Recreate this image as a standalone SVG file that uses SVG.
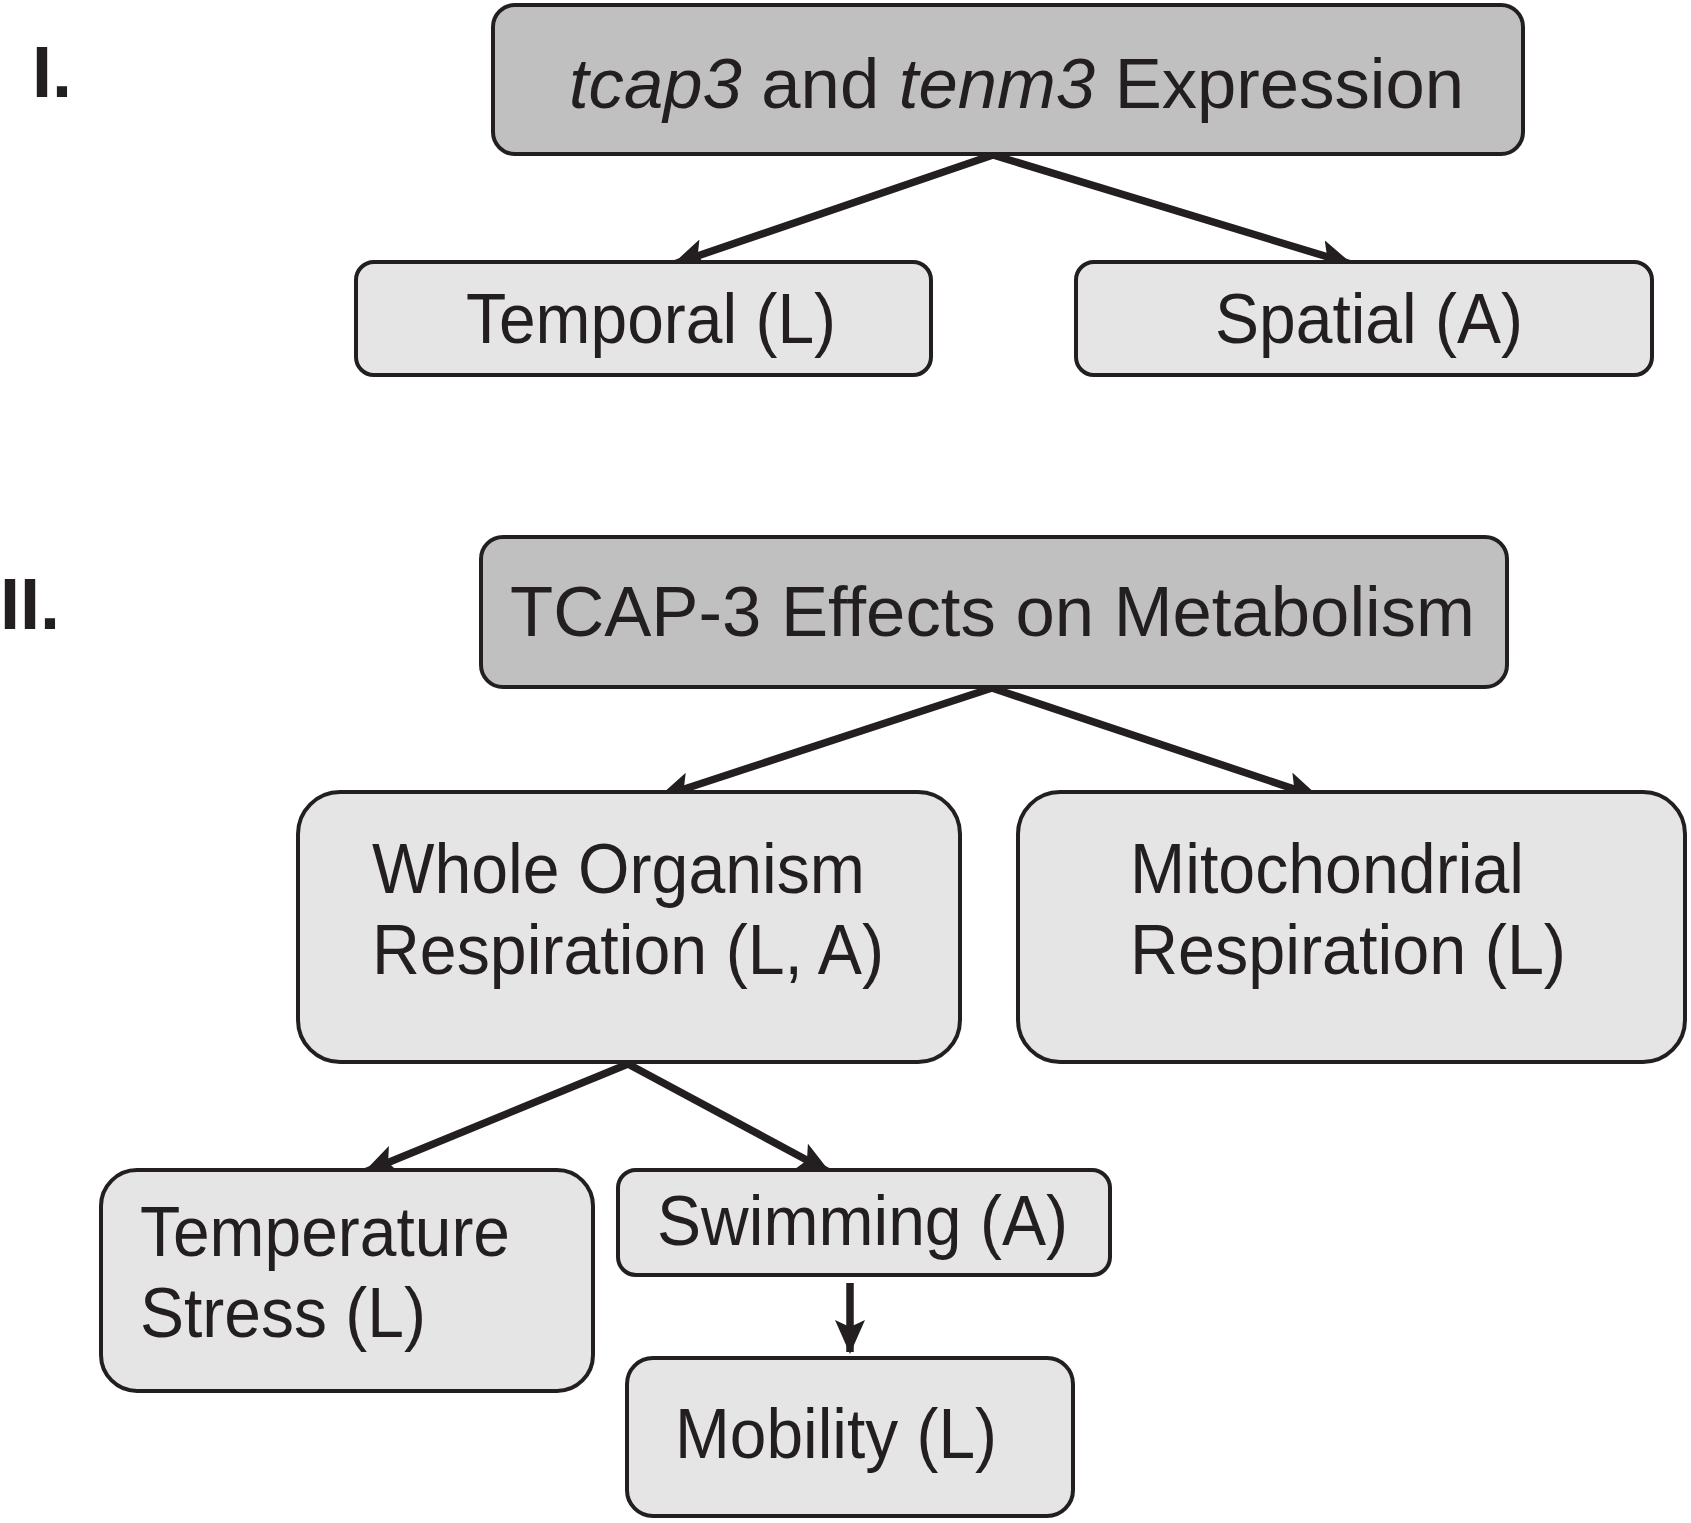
<svg xmlns="http://www.w3.org/2000/svg" width="1691" height="1523" viewBox="0 0 1691 1523">
<style>
.main{fill:#c0c0c0;stroke:#231f20;stroke-width:4}
.sub{fill:#e6e5e6;stroke:#231f20;stroke-width:4}
text{font-family:"Liberation Sans",Arial,sans-serif;font-size:70px;fill:#231f20}
.lbl{font-weight:bold;font-size:72px}
.conn{stroke:#231f20;stroke-width:7.5;fill:none;marker-end:url(#ah)}
</style>
<defs>
<marker id="ah" markerUnits="userSpaceOnUse" markerWidth="34" markerHeight="30" refX="32" refY="15" orient="auto">
<path d="M0,0 L34,15 L0,30 L7,15 Z" fill="#231f20"/>
</marker>
</defs>
<rect width="1691" height="1523" fill="#ffffff"/>
<text class="lbl" x="32" y="97">I.</text>
<text class="lbl" x="0" y="629">II.</text>

<g id="connectors">
<line class="conn" x1="993" y1="155" x2="674" y2="264"/>
<line class="conn" x1="993" y1="155" x2="1351" y2="264"/>
<line class="conn" x1="992" y1="688" x2="660" y2="797"/>
<line class="conn" x1="992" y1="688" x2="1318" y2="797"/>
<line class="conn" x1="628" y1="1064" x2="365" y2="1172"/>
<line class="conn" x1="628" y1="1064" x2="829" y2="1172"/>
<line class="conn" x1="850" y1="1283" x2="850" y2="1352"/>
</g>

<g id="n-expression">
<rect class="main" x="493" y="5" width="1030" height="149" rx="22"/>
<text x="569" y="108" textLength="895" lengthAdjust="spacingAndGlyphs"><tspan font-style="italic">tcap3</tspan> and <tspan font-style="italic">tenm3</tspan> Expression</text>
</g>
<g id="n-temporal">
<rect class="sub" x="356" y="262" width="575" height="113" rx="18"/>
<text x="466" y="343" textLength="370" lengthAdjust="spacingAndGlyphs">Temporal (L)</text>
</g>
<g id="n-spatial">
<rect class="sub" x="1076" y="262" width="576" height="113" rx="18"/>
<text x="1215" y="343" textLength="308" lengthAdjust="spacingAndGlyphs">Spatial (A)</text>
</g>

<g id="n-tcap">
<rect class="main" x="481" y="537" width="1026" height="150" rx="22"/>
<text x="510" y="636" textLength="965" lengthAdjust="spacingAndGlyphs">TCAP-3 Effects on Metabolism</text>
</g>
<g id="n-whole">
<rect class="sub" x="298" y="792" width="662" height="270" rx="42"/>
<text x="372" y="893" textLength="493" lengthAdjust="spacingAndGlyphs">Whole Organism</text>
<text x="372" y="974" textLength="512" lengthAdjust="spacingAndGlyphs">Respiration (L, A)</text>
</g>
<g id="n-mito">
<rect class="sub" x="1018" y="792" width="667" height="270" rx="42"/>
<text x="1130" y="893" textLength="394" lengthAdjust="spacingAndGlyphs">Mitochondrial</text>
<text x="1130" y="974" textLength="436" lengthAdjust="spacingAndGlyphs">Respiration (L)</text>
</g>
<g id="n-temperature">
<rect class="sub" x="101" y="1170" width="492" height="221" rx="36"/>
<text x="140" y="1256" textLength="370" lengthAdjust="spacingAndGlyphs">Temperature</text>
<text x="140" y="1337" textLength="286" lengthAdjust="spacingAndGlyphs">Stress (L)</text>
</g>
<g id="n-swimming">
<rect class="sub" x="618" y="1170" width="492" height="105" rx="18"/>
<text x="657" y="1245" textLength="411" lengthAdjust="spacingAndGlyphs">Swimming (A)</text>
</g>
<g id="n-mobility">
<rect class="sub" x="627" y="1358" width="446" height="158" rx="26"/>
<text x="675" y="1458" textLength="322" lengthAdjust="spacingAndGlyphs">Mobility (L)</text>
</g>
</svg>
